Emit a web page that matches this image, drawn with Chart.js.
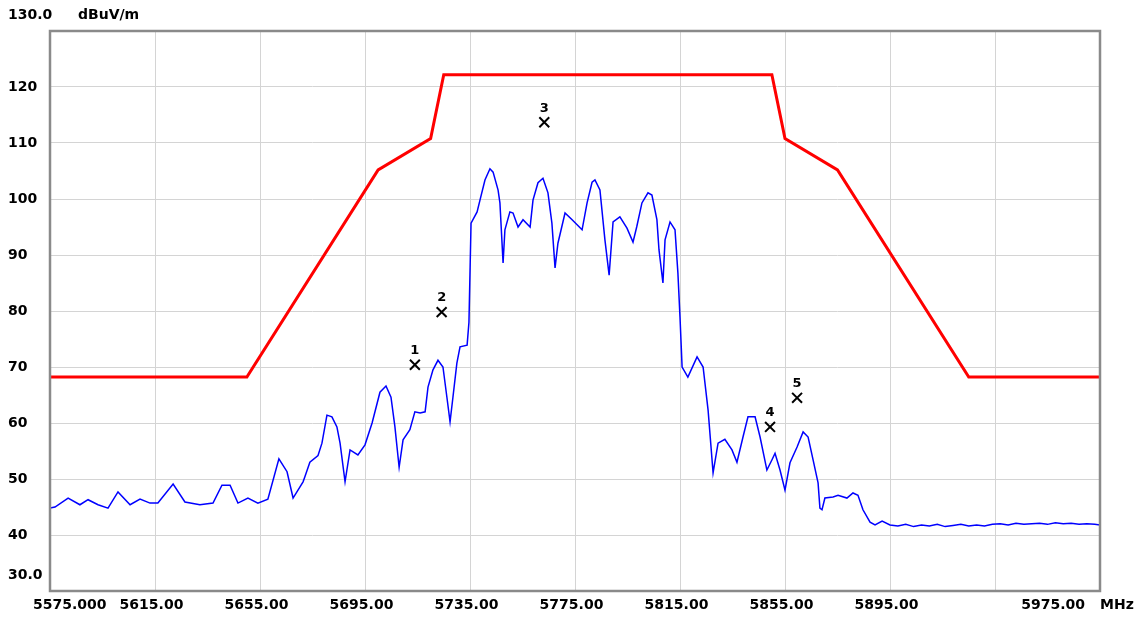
<!DOCTYPE html>
<html>
<head>
<meta charset="utf-8">
<script src="https://cdn.jsdelivr.net/npm/chart.js@4.4.1/dist/chart.umd.min.js"></script>
<style>
	body { margin: 0; background: #ffffff; }
	canvas { display: block; }
</style>
</head>
<body>
<canvas id="spectrumChart" width="1141" height="617"></canvas>
<script>
"use strict";

// limit mask (MHz, dBuV/m)
const limitFreq = [5575, 5650, 5700, 5720, 5725, 5850, 5855, 5875, 5925, 5975];
const limitLevel = [68.2, 68.2, 105.2, 110.8, 122.2, 122.2, 110.8, 105.2, 68.2, 68.2];

// measured trace (MHz, dBuV/m)
const traceFreq = [
	5575.0, 5576.9, 5581.9, 5586.4, 5589.5, 5593.3, 5597.1, 5600.9, 5605.5, 5609.3,
	5613.1, 5616.1, 5621.9, 5626.4, 5632.1, 5637.1, 5640.5, 5643.6, 5646.6, 5650.4,
	5654.2, 5658.0, 5662.2, 5665.3, 5667.6, 5671.4, 5672.1, 5674.0, 5677.1, 5678.6,
	5680.5, 5682.4, 5684.3, 5685.5, 5687.4, 5689.3, 5692.3, 5695.0, 5697.7, 5700.7,
	5703.0, 5704.9, 5706.4, 5708.0, 5709.5, 5712.1, 5714.0, 5716.0, 5717.9, 5719.0,
	5720.9, 5722.8, 5724.7, 5726.2, 5727.4, 5728.5, 5730.0, 5731.2, 5733.9, 5734.6,
	5735.4, 5737.7, 5738.8, 5740.7, 5742.6, 5743.8, 5745.7, 5746.4, 5747.6, 5748.3,
	5750.2, 5751.4, 5753.3, 5755.2, 5757.9, 5759.0, 5760.9, 5762.8, 5764.7, 5766.2,
	5767.4, 5768.5, 5771.2, 5773.9, 5775.8, 5777.7, 5779.6, 5781.5, 5782.6, 5784.5,
	5786.4, 5788.0, 5789.5, 5792.1, 5794.8, 5797.1, 5798.5, 5800.5, 5802.8, 5804.3,
	5806.2, 5807.0, 5808.5, 5809.3, 5811.2, 5813.1, 5814.2, 5815.0, 5815.8, 5818.0,
	5821.5, 5823.8, 5825.7, 5827.6, 5829.5, 5832.1, 5834.8, 5836.7, 5839.0, 5840.9,
	5843.6, 5845.5, 5848.1, 5850.0, 5851.2, 5853.1, 5855.0, 5856.9, 5859.6, 5861.9,
	5863.8, 5865.7, 5867.6, 5868.3, 5869.1, 5870.2, 5873.3, 5875.2, 5878.6, 5880.9,
	5882.8, 5884.7, 5887.4, 5889.3, 5892.0, 5895.0, 5898.0, 5901.0, 5904.0, 5907.0,
	5910.0, 5913.0, 5916.0, 5919.0, 5922.0, 5925.0, 5928.0, 5931.0, 5934.0, 5937.0,
	5940.0, 5943.0, 5946.0, 5949.0, 5952.0, 5955.0, 5958.0, 5961.0, 5964.0, 5967.0,
	5970.0, 5973.0, 5975.0
];
const traceLevel = [
	44.8, 45.0, 46.6, 45.4, 46.3, 45.4, 44.8, 47.7, 45.4, 46.4,
	45.7, 45.7, 49.1, 45.9, 45.4, 45.7, 48.9, 48.9, 45.7, 46.6,
	45.7, 46.4, 53.6, 51.3, 46.6, 49.5, 50.4, 53.0, 54.2, 56.4,
	61.4, 61.1, 59.3, 56.4, 49.5, 55.2, 54.3, 56.1, 60.0, 65.5,
	66.6, 64.6, 59.3, 52.1, 57.0, 58.8, 62.0, 61.8, 62.0, 66.4,
	69.5, 71.2, 70.0, 64.6, 60.2, 64.6, 70.7, 73.6, 73.9, 78.0,
	95.7, 97.7, 99.8, 103.4, 105.4, 104.8, 101.6, 99.3, 88.6, 94.5,
	97.7, 97.5, 95.0, 96.3, 95.0, 99.8, 102.9, 103.7, 101.1, 95.7,
	87.7, 92.1, 97.5, 96.3, 95.4, 94.5, 99.3, 103.0, 103.4, 101.6,
	92.7, 86.4, 95.9, 96.8, 94.8, 92.3, 95.0, 99.3, 101.1, 100.7,
	96.3, 90.9, 85.0, 92.7, 95.9, 94.5, 86.8, 78.9, 70.0, 68.2,
	71.8, 70.0, 62.3, 51.1, 56.4, 57.1, 55.2, 53.0, 57.5, 61.1,
	61.1, 57.5, 51.6, 53.4, 54.6, 51.6, 48.0, 52.9, 55.7, 58.4,
	57.5, 53.4, 49.3, 44.8, 44.5, 46.6, 46.8, 47.1, 46.6, 47.5,
	47.1, 44.5, 42.3, 41.8, 42.5, 41.8, 41.6, 41.9, 41.5, 41.8,
	41.6, 41.9, 41.5, 41.7, 41.9, 41.6, 41.8, 41.6, 41.9, 42.0,
	41.8, 42.1, 41.9, 42.0, 42.1, 41.9, 42.2, 42.0, 42.1, 41.9,
	42.0, 41.9, 41.8
];

// numbered markers
const markerLabels = ["1", "2", "3", "4", "5"];
const markerFreq = [5714.0, 5724.2, 5763.3, 5849.3, 5859.6];
const markerLevel = [70.4, 79.8, 113.7, 59.3, 64.5];

// axes
const xTickValues = [5575, 5615, 5655, 5695, 5735, 5775, 5815, 5855, 5895, 5935, 5975];
const xTickLabels = ["5575.000", "5615.00", "5655.00", "5695.00", "5735.00", "5775.00", "5815.00", "5855.00", "5895.00", "", "5975.00"];
const yTickValues = [130, 120, 110, 100, 90, 80, 70, 60, 50, 40, 30];
const yTickLabels = ["130.0", "120", "110", "100", "90", "80", "70", "60", "50", "40", "30.0"];
const yUnit = "dBuV/m";
const xUnit = "MHz";

const labelFont = "bold 14px 'DejaVu Sans'";

const toPoints = (xs, ys) => xs.map((x, i) => ({ x: x, y: ys[i] }));

const frameAndLabelsPlugin = {
	id: "frameAndLabels",
	afterDatasetsDraw: chart => {
		let ctx = chart.ctx;
		let area = chart.chartArea;
		let xScale = chart.scales.x;
		let yScale = chart.scales.y;
		ctx.save();
		// frame
		ctx.strokeStyle = "#8a8a8a";
		ctx.lineWidth = 2.5;
		ctx.strokeRect(area.left, area.top, area.right - area.left, area.bottom - area.top);
		// marker numbers
		ctx.fillStyle = "#000000";
		ctx.font = "bold 13px 'DejaVu Sans'";
		ctx.textAlign = "center";
		ctx.textBaseline = "middle";
		let markerMeta = chart.getDatasetMeta(2);
		markerMeta.data.forEach((point, i) => {
			ctx.fillText(markerLabels[i], point.x, point.y - 14);
		});
		// y labels
		ctx.font = labelFont;
		ctx.textAlign = "left";
		yTickValues.forEach((value, i) => {
			let y = yScale.getPixelForValue(value);
			if (i === 0 || i === yTickValues.length - 1) {
				y -= 16;
			}
			ctx.fillText(yTickLabels[i], 8, y);
		});
		ctx.fillText(yUnit, 78, yScale.getPixelForValue(yTickValues[0]) - 16);
		// x labels
		let labelY = area.bottom + 14;
		xTickValues.forEach((value, i) => {
			let x = xScale.getPixelForValue(value);
			if (i === 0) {
				ctx.textAlign = "left";
				ctx.fillText(xTickLabels[i], x - 17, labelY);
			} else if (i === xTickValues.length - 1) {
				ctx.textAlign = "right";
				ctx.fillText(xTickLabels[i], x - 15, labelY);
			} else {
				ctx.textAlign = "center";
				ctx.fillText(xTickLabels[i], x - 3.5, labelY);
			}
		});
		ctx.textAlign = "left";
		ctx.fillText(xUnit, xScale.getPixelForValue(xTickValues[xTickValues.length - 1]), labelY);
		ctx.restore();
	}
};

const buildChart = () => {
	let canvas = document.querySelector("canvas#spectrumChart");
	new Chart(canvas, {
		type: "line",
		data: {
			datasets: [{
				data: toPoints(limitFreq, limitLevel),
				borderColor: "#ff0000",
				borderWidth: 3,
				pointRadius: 0,
				tension: 0
			}, {
				data: toPoints(traceFreq, traceLevel),
				borderColor: "#0000ff",
				borderWidth: 1.5,
				pointRadius: 0,
				tension: 0
			}, {
				data: toPoints(markerFreq, markerLevel),
				showLine: false,
				pointStyle: "crossRot",
				pointRadius: 7,
				pointBorderWidth: 2,
				pointBorderColor: "#000000",
				borderColor: "#000000"
			}]
		},
		options: {
			responsive: false,
			animation: false,
			layout: {
				padding: { left: 50, right: 41, top: 31, bottom: 26 }
			},
			scales: {
				x: {
					type: "linear",
					min: 5575,
					max: 5975,
					afterBuildTicks: scale => {
						scale.ticks = xTickValues.map(value => ({ value: value }));
					},
					ticks: { display: false },
					grid: { color: "#d4d4d4", lineWidth: 1, drawTicks: false },
					border: { display: false }
				},
				y: {
					type: "linear",
					min: 30,
					max: 130,
					afterBuildTicks: scale => {
						scale.ticks = yTickValues.map(value => ({ value: value }));
					},
					ticks: { display: false },
					grid: { color: "#d4d4d4", lineWidth: 1, drawTicks: false },
					border: { display: false }
				}
			},
			plugins: {
				legend: { display: false },
				tooltip: { enabled: false }
			}
		},
		plugins: [frameAndLabelsPlugin]
	});
};

buildChart();
</script>
</body>
</html>
